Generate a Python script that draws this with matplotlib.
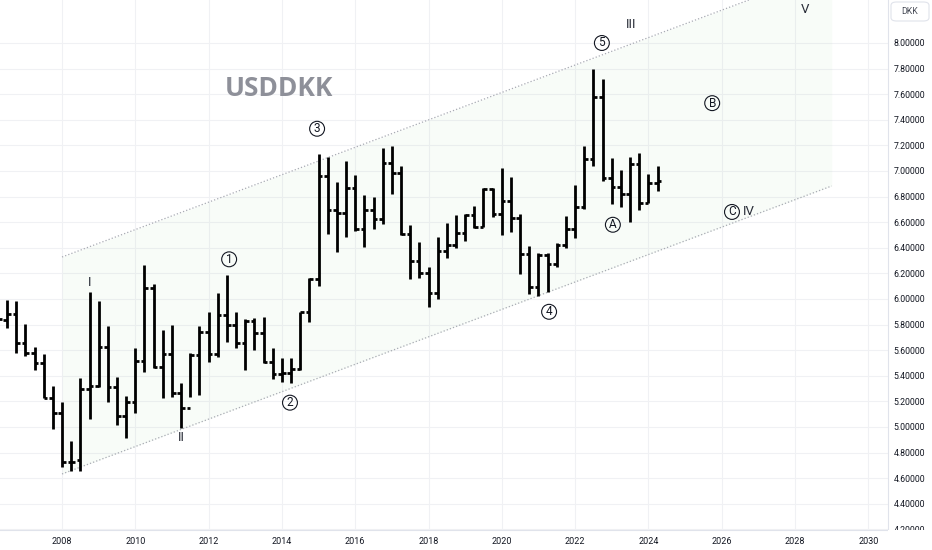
import numpy as np
import pandas as pd
import matplotlib
matplotlib.use("Agg")
import matplotlib.pyplot as plt
from matplotlib.patches import FancyBboxPatch

plt.rcParams['font.family'] = ['Roboto', 'DejaVu Sans']

# quarterly OHLC, USDDKK
quarters = pd.period_range('2006Q2', '2024Q2', freq='Q')
opens = [5.93, 5.836, 5.883, 5.654, 5.581, 5.497, 5.229, 5.107, 4.729, 4.742, 5.297,
         5.320, 5.628, 5.310, 5.086, 5.195, 5.516, 6.089, 5.466, 5.570, 5.268, 5.146,
         5.560, 5.742, 5.570, 5.872, 5.797, 5.659, 5.831, 5.737, 5.510, 5.414, 5.419,
         5.451, 5.901, 6.154, 6.961, 6.695, 6.674, 6.865, 6.544, 6.695, 6.622, 7.065,
         6.987, 6.508, 6.299, 6.200, 6.049, 6.378, 6.422, 6.518, 6.656, 6.565, 6.857,
         6.661, 6.768, 6.635, 6.349, 6.096, 6.344, 6.273, 6.422, 6.544, 6.721, 7.094,
         7.581, 6.943, 6.878, 6.820, 7.055, 6.753, 6.909]
highs = [5.98, 5.992, 5.987, 5.802, 5.628, 5.570, 5.320, 5.198, 4.893, 5.380, 6.052,
         5.987, 5.789, 5.393, 5.245, 5.615, 6.266, 6.117, 5.758, 5.797, 5.346, 5.576,
         5.789, 5.901, 6.049, 6.187, 5.901, 5.844, 5.849, 5.857, 5.615, 5.536, 5.536,
         5.901, 6.161, 7.130, 7.107, 6.911, 7.081, 6.969, 6.812, 6.794, 7.182, 7.195,
         7.039, 6.578, 6.448, 6.253, 6.482, 6.596, 6.656, 6.664, 6.727, 6.865, 6.870,
         7.021, 6.950, 6.664, 6.414, 6.357, 6.357, 6.435, 6.648, 6.891, 7.195, 7.797,
         7.719, 7.099, 7.008, 7.112, 7.138, 6.977, 7.039]
lows = [5.80, 5.771, 5.581, 5.555, 5.445, 5.224, 4.982, 4.690, 4.659, 4.656, 5.060,
        5.315, 5.193, 5.016, 4.917, 5.107, 5.432, 5.458, 5.224, 5.237, 4.990, 5.232,
        5.250, 5.510, 5.550, 5.667, 5.615, 5.445, 5.602, 5.497, 5.372, 5.354, 5.341,
        5.445, 5.820, 6.100, 6.508, 6.370, 6.487, 6.531, 6.404, 6.544, 6.586, 6.820,
        6.500, 6.154, 6.161, 5.935, 5.997, 6.318, 6.400, 6.456, 6.552, 6.565, 6.643,
        6.500, 6.526, 6.195, 6.039, 6.023, 6.057, 6.253, 6.400, 6.480, 6.700, 7.040,
        6.924, 6.742, 6.721, 6.604, 6.695, 6.750, 6.846]
closes = [5.84, 5.883, 5.654, 5.581, 5.497, 5.229, 5.107, 4.729, 4.729, 5.297, 5.320,
          5.628, 5.310, 5.086, 5.195, 5.516, 6.089, 5.466, 5.570, 5.268, 5.146, 5.560,
          5.742, 5.570, 5.872, 5.797, 5.659, 5.831, 5.737, 5.510, 5.414, 5.419, 5.451,
          5.901, 6.154, 6.961, 6.695, 6.674, 6.865, 6.544, 6.695, 6.622, 7.065, 6.987,
          6.508, 6.299, 6.200, 6.049, 6.378, 6.422, 6.518, 6.656, 6.565, 6.857, 6.661,
          6.768, 6.635, 6.349, 6.096, 6.344, 6.273, 6.422, 6.544, 6.721, 7.094, 7.581,
          6.943, 6.878, 6.820, 7.055, 6.753, 6.909, 6.924]

# trend channel (start/end year, lower and upper line values)
chan_x = [2008.0, 2029.0]
chan_lo = [4.633, 6.883]
chan_hi = [6.328, 8.578]

# elliott wave labels
circled = [('1', 2012.56, 6.31), ('2', 2014.22, 5.19), ('3', 2014.96, 7.33),
           ('4', 2021.29, 5.90), ('5', 2022.73, 8.00), ('A', 2023.03, 6.58),
           ('B', 2025.74, 7.53), ('C', 2026.28, 6.68)]
roman = [('I', 2008.76, 6.125), ('II', 2011.27, 4.92), ('III', 2023.53, 8.148),
         ('IV', 2026.74, 6.68), ('V', 2028.27, 8.258)]

x = np.array([q.year + (q.quarter - 1) / 4 for q in quarters])

fig = plt.figure(figsize=(9.32, 5.5), dpi=100)
ax = fig.add_axes([0, 20 / 550, 888 / 932, 530 / 550])

ax.fill_between(chan_x, chan_lo, chan_hi, color='#4caf50', alpha=0.035, lw=0, zorder=1)
ax.plot(chan_x, chan_lo, ls=':', color='#a8abb3', lw=0.9, zorder=2)
ax.plot(chan_x, chan_hi, ls=':', color='#a8abb3', lw=0.9, zorder=2)

tk = 0.1
ax.vlines(x, lows, highs, color='black', lw=2.0, zorder=3)
ax.hlines(opens, x - tk, x, color='black', lw=2.0, zorder=3)
ax.hlines(closes, x, x + tk, color='black', lw=2.0, zorder=3)

for lab, xx, yy in circled:
    ax.scatter([xx], [yy], s=115, facecolors='none', edgecolors='#131722',
               linewidths=0.8, zorder=4)
    ax.text(xx, yy, lab, ha='center', va='center', fontsize=8.5, color='#131722', zorder=5)
for lab, xx, yy in roman:
    ax.text(xx, yy, lab, ha='center', va='center', fontsize=9.5, color='#2a2e39', zorder=5)

ax.text(2013.91, 7.648, 'USDDKK', ha='center', va='center', fontsize=19,
        fontweight='bold', color='#8e9099', family=['Open Sans', 'DejaVu Sans'], zorder=5)

ax.set_xlim(2006.308, 2030.537)
ax.set_ylim(4.1953, 8.3359)
ax.set_xticks(np.arange(2008, 2031, 2))
ax.set_yticks(np.arange(4.2, 8.01, 0.2))
ax.set_yticklabels(['%.5f' % v for v in np.arange(4.2, 8.01, 0.2)])
ax.yaxis.tick_right()
ax.tick_params(axis='y', length=0, pad=4, labelsize=6.3, labelcolor='#131722')
ax.tick_params(axis='x', length=0, pad=5, labelsize=6.5, labelcolor='#131722')
ax.grid(True, color='#f0f1f4', lw=0.8, zorder=0)
ax.set_axisbelow(True)
for s in ['top', 'left']:
    ax.spines[s].set_visible(False)
for s in ['right', 'bottom']:
    ax.spines[s].set_color('#e0e3eb')
    ax.spines[s].set_linewidth(0.8)

# white strip under price axis (hides half of last label like the original)
fig.add_artist(plt.Rectangle((888 / 932, 0), 44 / 932, 20 / 550, transform=fig.transFigure,
                             fc='white', ec='none', zorder=10))
# currency box at top of price axis
fig.add_artist(FancyBboxPatch((891 / 932, 1 - 21 / 550), 38 / 932, 19 / 550,
                              boxstyle='round,pad=0,rounding_size=0.006',
                              transform=fig.transFigure, fc='white', ec='#e0e3eb',
                              lw=0.8, zorder=10))
fig.text(910 / 932, 1 - 11.5 / 550, 'DKK', ha='center', va='center', fontsize=6.3,
         color='#4a4e59', zorder=11)

fig.savefig('out.png', dpi=100)
